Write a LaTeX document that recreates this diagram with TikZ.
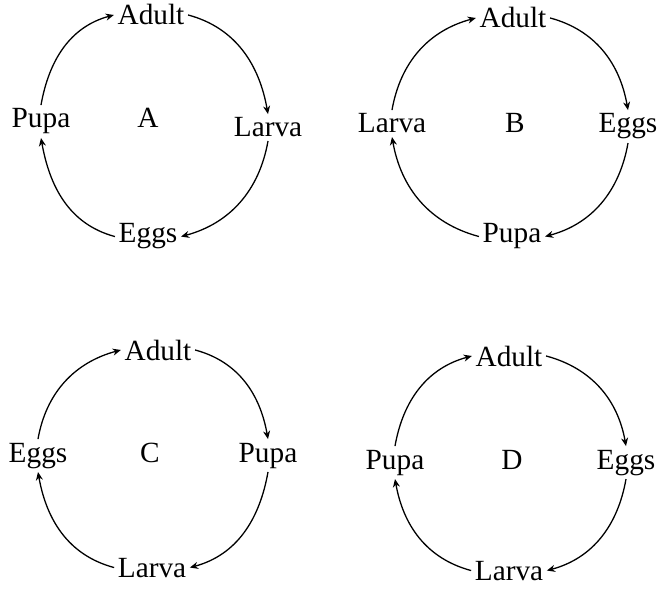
\documentclass[tikz,border=0pt]{standalone}
\usepackage{fontspec}
\setmainfont{Liberation Serif}
\usetikzlibrary{arrows.meta}

\begin{document}
\begin{tikzpicture}[x=0.03cm, y=-0.03cm,
    stage/.style={font=\fontsize{25}{28}\selectfont, anchor=base, inner sep=3pt},
    cyc/.style={-{Stealth[length=7pt, width=6pt]}, line width=1.1pt}]
    \useasboundingbox (0,0) rectangle (661,592);

    % cycle A
    \node[stage] (adultA) at (151,25) {Adult};
    \node[stage] (larvaA) at (268,137) {Larva};
    \node[stage] (eggsA) at (148,243) {Eggs};
    \node[stage] (pupaA) at (41,128) {Pupa};
    \node[stage] (labA) at (148,128) {A};
    \draw[cyc] (adultA.east) to[out=-15, in=100] (larvaA.north);
    \draw[cyc] (larvaA.south) to[out=-100, in=15] (eggsA.east);
    \draw[cyc] (eggsA.west) to[out=165, in=-80] (pupaA.south);
    \draw[cyc] (pupaA.north) to[out=80, in=-165] (adultA.west);

    % cycle B
    \node[stage] (adultB) at (513,28) {Adult};
    \node[stage] (eggsB) at (628,133) {Eggs};
    \node[stage] (pupaB) at (512,243) {Pupa};
    \node[stage] (larvaB) at (392,133) {Larva};
    \node[stage] (labB) at (515,133) {B};
    \draw[cyc] (adultB.east) to[out=-15, in=100] (eggsB.north);
    \draw[cyc] (eggsB.south) to[out=-100, in=15] (pupaB.east);
    \draw[cyc] (pupaB.west) to[out=165, in=-80] (larvaB.south);
    \draw[cyc] (larvaB.north) to[out=80, in=-165] (adultB.west);

    % cycle C
    \node[stage] (adultC) at (158,360) {Adult};
    \node[stage] (pupaC) at (268,462) {Pupa};
    \node[stage] (larvaC) at (152,577) {Larva};
    \node[stage] (eggsC) at (38,462) {Eggs};
    \node[stage] (labC) at (150,462) {C};
    \draw[cyc] (adultC.east) to[out=-15, in=100] (pupaC.north);
    \draw[cyc] (pupaC.south) to[out=-100, in=15] (larvaC.east);
    \draw[cyc] (larvaC.west) to[out=165, in=-80] (eggsC.south);
    \draw[cyc] (eggsC.north) to[out=80, in=-165] (adultC.west);

    % cycle D
    \node[stage] (adultD) at (509,366) {Adult};
    \node[stage] (eggsD) at (626,469) {Eggs};
    \node[stage] (larvaD) at (509,580) {Larva};
    \node[stage] (pupaD) at (395,469) {Pupa};
    \node[stage] (labD) at (512,469) {D};
    \draw[cyc] (adultD.east) to[out=-15, in=100] (eggsD.north);
    \draw[cyc] (eggsD.south) to[out=-100, in=15] (larvaD.east);
    \draw[cyc] (larvaD.west) to[out=165, in=-80] (pupaD.south);
    \draw[cyc] (pupaD.north) to[out=80, in=-165] (adultD.west);
  \end{tikzpicture}
\end{document}
